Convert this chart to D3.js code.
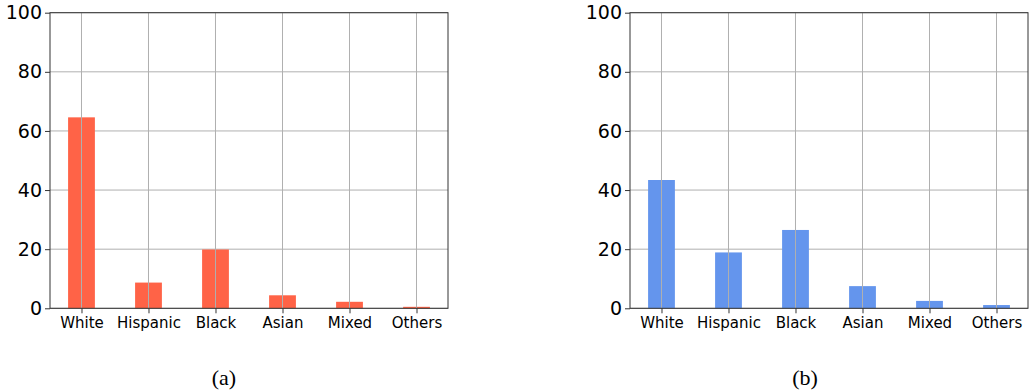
<!DOCTYPE html>
<html>
<head>
<meta charset="utf-8">
<script src="https://cdn.jsdelivr.net/npm/d3@7"></script>
<style>
  html, body { margin: 0; padding: 0; background: #fff; }
  svg { display: block; }
</style>
</head>
<body>
<svg id="chart" width="1029" height="390"></svg>
<script>
// Population share (%) by race/ethnicity, two panels
const categories = ["White", "Hispanic", "Black", "Asian", "Mixed", "Others"];
const valuesA = [64.6, 8.7, 19.9, 4.4, 2.2, 0.5];
const valuesB = [43.4, 18.9, 26.5, 7.5, 2.5, 1.1];
const yTicks = [0, 20, 40, 60, 80, 100];
const captions = ["(a)", "(b)"];

const svg = d3.select("#chart");

const panels = [
  { values: valuesA, color: "#ff6347", left: 50, right: 448, caption: captions[0], capX: 224 },
  { values: valuesB, color: "#6495ed", left: 630, right: 1028, caption: captions[1], capX: 805 }
];

const plotTop = 12.7, plotBottom = 308.3;
const barWidth = 0.4;

panels.forEach(p => {
  const g = svg.append("g");

  const x = d3.scaleLinear().domain([-0.47, categories.length - 1 + 0.47]).range([p.left, p.right]);
  const y = d3.scaleLinear().domain([0, 100]).range([plotBottom, plotTop]);

  // horizontal grid
  g.append("g").selectAll("line").data(yTicks).join("line")
    .attr("x1", p.left).attr("x2", p.right)
    .attr("y1", d => y(d)).attr("y2", d => y(d))
    .attr("stroke", "#b0b0b0").attr("stroke-width", 1);

  // bars
  g.append("g").selectAll("rect").data(p.values).join("rect")
    .attr("x", (d, i) => x(i - barWidth / 2))
    .attr("width", (d, i) => x(i + barWidth / 2) - x(i - barWidth / 2))
    .attr("y", d => y(d))
    .attr("height", d => y(0) - y(d))
    .attr("fill", p.color);

  // vertical grid, drawn over the bars
  g.append("g").selectAll("line").data(categories).join("line")
    .attr("x1", (d, i) => x(i)).attr("x2", (d, i) => x(i))
    .attr("y1", plotTop).attr("y2", plotBottom)
    .attr("stroke", "#b0b0b0").attr("stroke-width", 1);

  // frame
  g.append("rect")
    .attr("x", p.left).attr("y", plotTop)
    .attr("width", p.right - p.left).attr("height", plotBottom - plotTop)
    .attr("fill", "none").attr("stroke", "#333").attr("stroke-width", 1);

  // y axis
  const yAxis = d3.axisLeft(y).tickValues(yTicks).tickSize(5).tickPadding(3);
  const ya = g.append("g").attr("transform", `translate(${p.left},0)`).call(yAxis);
  ya.select(".domain").remove();
  ya.selectAll(".tick line").attr("stroke", "#333");
  ya.selectAll("text").attr("font-family", "DejaVu Sans").attr("font-size", 19).attr("fill", "#000");

  // x axis
  const xAxis = d3.axisBottom(x).tickValues(d3.range(categories.length))
    .tickFormat(i => categories[i]).tickSize(5).tickPadding(4);
  const xa = g.append("g").attr("transform", `translate(0,${plotBottom})`).call(xAxis);
  xa.select(".domain").remove();
  xa.selectAll(".tick line").attr("stroke", "#333");
  xa.selectAll("text").attr("font-family", "DejaVu Sans").attr("font-size", 15).attr("fill", "#000");

  // caption
  svg.append("text")
    .attr("x", p.capX).attr("y", 385)
    .attr("text-anchor", "middle")
    .attr("font-family", "Liberation Serif")
    .attr("font-size", 22)
    .attr("fill", "#000")
    .text(p.caption);
});
</script>
</body>
</html>
